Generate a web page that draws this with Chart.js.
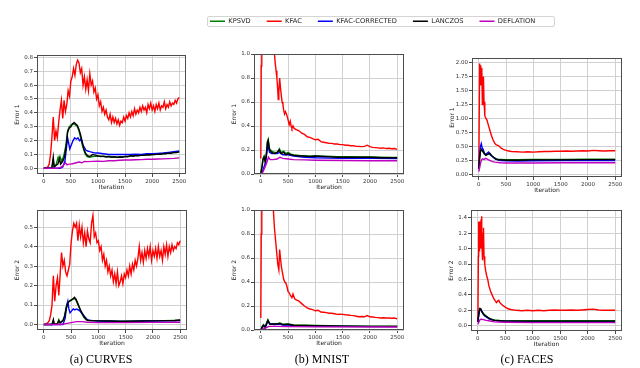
<!DOCTYPE html>
<html><head><meta charset="utf-8">
<script src="https://cdn.jsdelivr.net/npm/chart.js@4.4.1/dist/chart.umd.min.js"></script>
<style>
html,body{margin:0;padding:0;background:#fff;width:640px;height:368px;overflow:hidden;position:relative;font-family:"DejaVu Sans",sans-serif}
canvas.plot{position:absolute;left:0;top:0}
.legend{position:absolute;left:207px;top:16px;width:348px;height:11px;border:1px solid #d4d4d4;border-radius:2px;box-sizing:border-box}
.cap{position:absolute;top:352px;font-family:"Liberation Serif",serif;font-size:12px;color:#000;transform:translateX(-50%);white-space:nowrap;line-height:14px}
</style>
</head><body>
<div class="legend"></div>
<script>
// ---------------- DATA ----------------
const SERIES = ['KPSVD','KFAC','KFAC-CORRECTED','LANCZOS','DEFLATION'];
const X_TICKS = [0,500,1000,1500,2000,2500];
const X_LABELS = ['0','500','1000','1500','2000','2500'];
const CAPTIONS = ['(a) CURVES','(b) MNIST','(c) FACES'];
const Y_TITLES = ['Error 1','Error 2'];

const Y_TICKS_CURVES1 = [0,0.1,0.2,0.3,0.4,0.5,0.6,0.7,0.8];
const Y_LABELS_CURVES1 = ['0.0','0.1','0.2','0.3','0.4','0.5','0.6','0.7','0.8'];
const Y_TICKS_CURVES2 = [0,0.1,0.2,0.3,0.4,0.5];
const Y_LABELS_CURVES2 = ['0.0','0.1','0.2','0.3','0.4','0.5'];
const Y_TICKS_MNIST = [0,0.2,0.4,0.6,0.8,1.0];
const Y_LABELS_MNIST = ['0.0','0.2','0.4','0.6','0.8','1.0'];
const Y_TICKS_FACES1 = [0,0.25,0.5,0.75,1.0,1.25,1.5,1.75,2.0];
const Y_LABELS_FACES1 = ['0.00','0.25','0.50','0.75','1.00','1.25','1.50','1.75','2.00'];
const Y_TICKS_FACES2 = [0,0.2,0.4,0.6,0.8,1.0,1.2,1.4];
const Y_LABELS_FACES2 = ['0.0','0.2','0.4','0.6','0.8','1.0','1.2','1.4'];

// iterations at which the noisy KFAC curve of CURVES is read
const CURVES_KFAC_X = [0,25,50,75,100,125,150,175,200,225,250,275,300,325,350,375,400,425,450,475,500,525,550,575,600,625,650,675,700,725,750,775,800,825,850,875,900,925,950,975,1000,1025,1050,1075,1100,1125,1150,1175,1200,1225,1250,1275,1300,1325,1350,1375,1400,1425,1450,1475,1500,1525,1550,1575,1600,1625,1650,1675,1700,1725,1750,1775,1800,1825,1850,1875,1900,1925,1950,1975,2000,2025,2050,2075,2100,2125,2150,2175,2200,2225,2250,2275,2300,2325,2350,2375,2400,2425,2450,2475,2500];
const curves1_kfac_y = [0,0,0.005,0.01,0.03,0.1,0.22,0.37,0.2,0.27,0.22,0.33,0.42,0.49,0.36,0.49,0.41,0.46,0.56,0.52,0.63,0.66,0.72,0.67,0.75,0.78,0.76,0.69,0.72,0.6,0.66,0.57,0.64,0.56,0.68,0.6,0.63,0.55,0.58,0.5,0.53,0.45,0.48,0.41,0.44,0.39,0.42,0.37,0.35,0.39,0.33,0.37,0.33,0.36,0.32,0.35,0.31,0.34,0.33,0.37,0.34,0.38,0.36,0.4,0.37,0.41,0.38,0.43,0.39,0.42,0.4,0.44,0.41,0.45,0.42,0.44,0.4,0.46,0.43,0.47,0.42,0.45,0.41,0.46,0.43,0.47,0.42,0.45,0.44,0.48,0.43,0.46,0.44,0.48,0.45,0.47,0.46,0.49,0.47,0.5,0.51];
const curves2_kfac_y = [0,0,0.005,0.01,0.02,0.05,0.1,0.25,0.12,0.2,0.24,0.15,0.26,0.37,0.3,0.33,0.27,0.25,0.28,0.31,0.42,0.48,0.52,0.5,0.52,0.43,0.51,0.45,0.5,0.42,0.47,0.4,0.48,0.44,0.42,0.52,0.56,0.45,0.47,0.42,0.43,0.38,0.4,0.33,0.36,0.3,0.33,0.27,0.3,0.25,0.28,0.22,0.26,0.21,0.27,0.2,0.22,0.25,0.21,0.26,0.24,0.28,0.25,0.3,0.26,0.31,0.28,0.33,0.3,0.34,0.4,0.33,0.37,0.32,0.38,0.34,0.39,0.35,0.4,0.33,0.38,0.35,0.39,0.34,0.4,0.35,0.38,0.33,0.4,0.36,0.41,0.35,0.4,0.37,0.41,0.38,0.4,0.39,0.42,0.41,0.43];

// CURVES, Error 1
const curves1_kpsvd = [[0,0],[100,0],[150,0.005],[175,0.06],[195,0.01],[230,0.03],[265,0.08],[285,0.06],[300,0.085],[330,0.05],[370,0.09],[410,0.17],[440,0.27],[470,0.3],[500,0.31],[530,0.32],[560,0.32],[590,0.31],[620,0.3],[650,0.27],[680,0.22],[710,0.17],[740,0.13],[770,0.1],[800,0.085],[850,0.08],[900,0.085],[1000,0.088],[1100,0.085],[1200,0.085],[1300,0.082],[1400,0.083],[1500,0.086],[1600,0.09],[1700,0.093],[1800,0.096],[1900,0.099],[2000,0.1],[2100,0.103],[2200,0.106],[2300,0.11],[2400,0.114],[2500,0.118]];
const curves1_corrected = [[0,0],[300,0],[350,0.01],[390,0.05],[420,0.15],[440,0.22],[460,0.18],[480,0.14],[510,0.17],[540,0.2],[570,0.22],[600,0.21],[630,0.22],[660,0.2],[690,0.21],[720,0.17],[750,0.15],[780,0.13],[810,0.125],[850,0.12],[900,0.115],[950,0.11],[1000,0.11],[1100,0.105],[1200,0.1],[1300,0.1],[1400,0.1],[1500,0.1],[1600,0.1],[1700,0.102],[1800,0.1],[1900,0.105],[2000,0.105],[2100,0.108],[2200,0.11],[2300,0.115],[2400,0.12],[2500,0.125]];
const curves1_lanczos = [[0,0],[100,0],[150,0.005],[175,0.08],[190,0.01],[225,0.02],[260,0.03],[290,0.07],[310,0.03],[350,0.05],[380,0.08],[410,0.15],[440,0.26],[470,0.29],[500,0.3],[530,0.32],[560,0.33],[590,0.32],[620,0.31],[650,0.28],[680,0.24],[710,0.19],[740,0.14],[770,0.11],[800,0.095],[830,0.085],[870,0.09],[900,0.1],[950,0.095],[1000,0.09],[1050,0.085],[1100,0.088],[1150,0.082],[1200,0.085],[1250,0.08],[1300,0.083],[1350,0.079],[1400,0.082],[1450,0.08],[1500,0.085],[1550,0.083],[1600,0.09],[1650,0.087],[1700,0.092],[1750,0.09],[1800,0.095],[1850,0.093],[1900,0.098],[1950,0.096],[2000,0.1],[2050,0.099],[2100,0.102],[2150,0.101],[2200,0.105],[2250,0.104],[2300,0.11],[2350,0.108],[2400,0.115],[2450,0.113],[2500,0.12]];
const curves1_deflation = [[0,0],[250,0],[300,0.005],[350,0.015],[380,0.03],[400,0.04],[430,0.025],[460,0.03],[500,0.03],[550,0.035],[600,0.04],[650,0.045],[700,0.04],[750,0.05],[800,0.048],[900,0.05],[1000,0.052],[1100,0.05],[1200,0.055],[1300,0.055],[1400,0.058],[1500,0.06],[1600,0.06],[1700,0.062],[1800,0.063],[1900,0.065],[2000,0.065],[2100,0.067],[2200,0.068],[2300,0.07],[2400,0.072],[2500,0.075]];

// CURVES, Error 2
const curves2_kpsvd = [[0,0],[150,0],[175,0.02],[190,0.002],[250,0.005],[275,0.025],[300,0.01],[350,0.02],[380,0.045],[410,0.09],[440,0.115],[470,0.12],[500,0.125],[530,0.13],[560,0.135],[590,0.125],[620,0.105],[650,0.085],[680,0.065],[710,0.05],[740,0.035],[770,0.026],[800,0.021],[900,0.02],[1000,0.019],[1200,0.018],[1400,0.017],[1600,0.017],[1800,0.018],[2000,0.019],[2200,0.02],[2400,0.021],[2500,0.022]];
const curves2_corrected = [[0,0],[350,0],[390,0.03],[420,0.1],[440,0.12],[460,0.08],[480,0.06],[510,0.07],[540,0.08],[570,0.075],[600,0.08],[630,0.075],[660,0.07],[690,0.06],[720,0.05],[750,0.04],[780,0.03],[820,0.022],[900,0.02],[1000,0.018],[1500,0.016],[2000,0.018],[2500,0.02]];
const curves2_lanczos = [[0,0],[150,0],[175,0.025],[190,0.002],[250,0.005],[275,0.02],[300,0.008],[350,0.02],[380,0.04],[410,0.08],[440,0.11],[470,0.12],[500,0.125],[530,0.13],[560,0.14],[590,0.13],[620,0.11],[650,0.09],[680,0.07],[710,0.055],[740,0.04],[770,0.03],[800,0.022],[850,0.02],[900,0.02],[1000,0.019],[1200,0.018],[1400,0.016],[1600,0.017],[1800,0.018],[2000,0.019],[2200,0.02],[2400,0.021],[2500,0.023]];
const curves2_deflation = [[0,0],[300,0],[400,0.005],[500,0.01],[600,0.015],[700,0.015],[800,0.012],[1000,0.01],[1500,0.01],[2000,0.011],[2500,0.012]];

// MNIST, Error 1
const mnist1_kpsvd = [[0,0.01],[20,0.06],[40,0.13],[60,0.15],[80,0.11],[100,0.16],[120,0.27],[135,0.29],[160,0.21],[200,0.19],[250,0.18],[300,0.18],[340,0.21],[370,0.18],[420,0.19],[460,0.17],[500,0.18],[550,0.165],[600,0.16],[700,0.155],[800,0.15],[900,0.15],[1000,0.15],[1200,0.148],[1400,0.145],[1600,0.145],[1800,0.142],[2000,0.142],[2200,0.14],[2400,0.138],[2500,0.138]];
const mnist1_kfac = [[0,0.13],[8,0.9],[18,2.5],[60,3],[160,2.5],[230,1.2],[250,1.0],[265,0.92],[280,0.86],[295,0.8],[310,0.7],[320,0.62],[330,0.68],[345,0.8],[360,0.72],[375,0.66],[390,0.6],[405,0.58],[420,0.53],[435,0.5],[450,0.52],[470,0.5],[490,0.47],[505,0.44],[520,0.41],[540,0.44],[555,0.4],[570,0.38],[590,0.4],[610,0.38],[650,0.37],[700,0.36],[750,0.34],[800,0.33],[850,0.31],[900,0.305],[950,0.295],[1000,0.285],[1050,0.29],[1100,0.27],[1150,0.265],[1200,0.26],[1250,0.255],[1300,0.255],[1350,0.25],[1400,0.25],[1450,0.245],[1500,0.245],[1550,0.24],[1600,0.24],[1650,0.235],[1700,0.235],[1750,0.23],[1800,0.23],[1850,0.228],[1900,0.23],[1950,0.24],[2000,0.228],[2050,0.222],[2100,0.22],[2150,0.218],[2200,0.215],[2250,0.218],[2300,0.212],[2350,0.215],[2400,0.21],[2450,0.212],[2500,0.205]];
const mnist1_corrected = [[0,0],[30,0.02],[60,0.06],[90,0.1],[110,0.18],[130,0.24],[160,0.18],[200,0.17],[300,0.17],[350,0.18],[400,0.16],[500,0.16],[600,0.15],[800,0.14],[1000,0.135],[1500,0.13],[2000,0.13],[2500,0.128]];
const mnist1_lanczos = [[0,0.01],[20,0.05],[40,0.12],[60,0.14],[80,0.1],[100,0.15],[120,0.26],[135,0.28],[160,0.2],[200,0.18],[250,0.17],[300,0.18],[340,0.2],[370,0.17],[420,0.18],[460,0.16],[500,0.17],[550,0.16],[600,0.155],[700,0.15],[800,0.15],[900,0.145],[1000,0.15],[1200,0.145],[1400,0.14],[1600,0.14],[1800,0.14],[2000,0.14],[2200,0.135],[2400,0.135],[2500,0.135]];
const mnist1_deflation = [[0,0],[30,0.01],[60,0.04],[90,0.07],[120,0.11],[140,0.14],[170,0.12],[220,0.12],[300,0.125],[350,0.14],[400,0.13],[500,0.125],[600,0.12],[800,0.118],[1000,0.115],[1500,0.112],[2000,0.11],[2500,0.11]];

// MNIST, Error 2
const mnist2_kpsvd = [[0,0],[30,0.035],[50,0.045],[80,0.025],[110,0.065],[130,0.085],[160,0.055],[220,0.05],[300,0.052],[350,0.058],[400,0.048],[500,0.05],[600,0.042],[800,0.04],[1000,0.038],[1500,0.034],[2000,0.032],[2500,0.031]];
const mnist2_kfac = [[0,0.1],[8,0.8],[18,2.5],[60,3],[150,2.5],[210,1.2],[230,1.0],[250,0.85],[270,0.75],[290,0.65],[310,0.55],[330,0.5],[345,0.67],[360,0.6],[380,0.52],[400,0.47],[420,0.42],[440,0.4],[460,0.39],[480,0.36],[500,0.32],[520,0.31],[540,0.29],[570,0.27],[590,0.3],[620,0.26],[650,0.25],[700,0.24],[750,0.22],[800,0.2],[850,0.185],[900,0.175],[950,0.17],[1000,0.16],[1050,0.165],[1100,0.15],[1150,0.148],[1200,0.145],[1250,0.14],[1300,0.14],[1350,0.135],[1400,0.13],[1450,0.132],[1500,0.13],[1550,0.127],[1600,0.125],[1650,0.122],[1700,0.12],[1750,0.115],[1800,0.11],[1850,0.112],[1900,0.11],[1950,0.12],[2000,0.11],[2050,0.108],[2100,0.105],[2150,0.103],[2200,0.1],[2250,0.102],[2300,0.1],[2350,0.1],[2400,0.098],[2450,0.1],[2500,0.093]];
const mnist2_corrected = [[0,0],[30,0.02],[60,0.035],[90,0.03],[120,0.06],[140,0.07],[170,0.05],[250,0.045],[350,0.05],[400,0.042],[500,0.043],[600,0.038],[800,0.035],[1000,0.032],[1500,0.03],[2000,0.028],[2500,0.028]];
const mnist2_lanczos = [[0,0],[30,0.03],[50,0.04],[80,0.02],[110,0.06],[130,0.08],[160,0.05],[220,0.05],[300,0.05],[350,0.055],[400,0.045],[500,0.048],[600,0.04],[800,0.038],[1000,0.035],[1500,0.032],[2000,0.03],[2500,0.03]];
const mnist2_deflation = [[0,0],[50,0.01],[100,0.02],[150,0.03],[300,0.03],[500,0.028],[1000,0.026],[2500,0.025]];

// FACES, Error 1
const faces1_kpsvd = [[0,0.1],[15,0.3],[30,0.41],[50,0.44],[70,0.41],[100,0.37],[130,0.34],[160,0.36],[200,0.37],[240,0.33],[280,0.3],[320,0.28],[360,0.27],[400,0.27],[500,0.265],[700,0.265],[1000,0.27],[1500,0.27],[2000,0.272],[2500,0.272]];
const faces1_kfac = [[0,0.1],[15,1.98],[25,1.6],[35,1.95],[45,1.7],[55,1.9],[65,1.25],[75,1.5],[85,1.75],[95,1.3],[110,1.05],[130,1.0],[150,0.97],[170,0.9],[200,0.8],[230,0.7],[260,0.62],[290,0.56],[320,0.53],[350,0.52],[380,0.5],[410,0.47],[450,0.45],[500,0.43],[550,0.42],[600,0.41],[700,0.405],[800,0.4],[900,0.405],[1000,0.4],[1100,0.405],[1200,0.41],[1300,0.41],[1400,0.415],[1500,0.415],[1600,0.42],[1700,0.415],[1800,0.42],[1900,0.425],[2000,0.42],[2100,0.43],[2200,0.425],[2300,0.42],[2400,0.425],[2500,0.425]];
const faces1_corrected = [[0,0.1],[15,0.35],[30,0.5],[45,0.55],[60,0.48],[80,0.45],[100,0.38],[120,0.35],[150,0.38],[180,0.4],[210,0.35],[250,0.32],[300,0.28],[350,0.26],[400,0.25],[500,0.245],[700,0.24],[1000,0.245],[1500,0.25],[2000,0.25],[2500,0.25]];
const faces1_lanczos = [[0,0.1],[15,0.3],[30,0.42],[50,0.45],[70,0.42],[100,0.38],[130,0.35],[160,0.36],[200,0.38],[240,0.33],[280,0.3],[320,0.27],[360,0.26],[400,0.26],[500,0.255],[700,0.255],[1000,0.26],[1500,0.26],[2000,0.265],[2500,0.265]];
const faces1_deflation = [[0,0.05],[15,0.12],[30,0.2],[50,0.26],[70,0.28],[100,0.27],[130,0.29],[160,0.27],[200,0.25],[250,0.23],[300,0.22],[400,0.21],[500,0.205],[1000,0.205],[1500,0.21],[2000,0.21],[2500,0.21]];

// FACES, Error 2
const faces2_kpsvd = [[0,0.05],[15,0.15],[30,0.21],[50,0.22],[70,0.19],[100,0.16],[130,0.14],[160,0.12],[200,0.1],[250,0.085],[300,0.075],[400,0.068],[500,0.065],[1000,0.065],[2500,0.065]];
const faces2_kfac = [[0,0.05],[10,0.9],[15,1.35],[22,0.97],[30,1.3],[40,1.35],[50,1.0],[58,1.38],[66,1.42],[75,1.1],[85,0.85],[95,1.2],[103,1.27],[112,0.9],[125,0.8],[140,0.72],[160,0.65],[180,0.6],[200,0.52],[230,0.45],[260,0.4],[290,0.35],[320,0.32],[340,0.3],[360,0.32],[380,0.33],[400,0.3],[430,0.28],[460,0.26],[500,0.24],[550,0.22],[600,0.21],[700,0.2],[800,0.195],[900,0.2],[1000,0.195],[1100,0.2],[1200,0.195],[1300,0.2],[1400,0.205],[1500,0.2],[1600,0.2],[1700,0.205],[1800,0.2],[1900,0.205],[2000,0.21],[2100,0.215],[2200,0.205],[2300,0.2],[2400,0.2],[2500,0.2]];
const faces2_corrected = [[0,0.05],[20,0.15],[40,0.22],[60,0.2],[90,0.16],[120,0.13],[160,0.11],[200,0.09],[300,0.07],[400,0.06],[600,0.055],[1000,0.05],[2500,0.05]];
const faces2_lanczos = [[0,0.05],[15,0.15],[30,0.22],[50,0.22],[70,0.19],[100,0.15],[130,0.13],[160,0.12],[200,0.1],[250,0.08],[300,0.07],[400,0.065],[500,0.06],[1000,0.06],[2500,0.06]];
const faces2_deflation = [[0,0.02],[20,0.05],[40,0.08],[60,0.085],[100,0.08],[150,0.07],[200,0.065],[300,0.05],[500,0.045],[1000,0.04],[2500,0.04]];

// ---------------- STYLE / LAYOUT ----------------
const COLORS = ['#008000','#ff0000','#0000ff','#000000','#bf00bf'];
const FRAME = '#4d4d4d';
const GRID = '#d0d0d0';

function zipXY(xs, ys){ return xs.map((x,i)=>({x:x, y:ys[i]})); }
function pairs(p){ return p.map(v=>({x:v[0], y:v[1]})); }

const framePlugin = {
  id:'frame',
  afterDatasetsDraw(chart){
    const a = chart.chartArea, c = chart.ctx;
    c.save(); c.strokeStyle = FRAME; c.lineWidth = 1;
    c.strokeRect(Math.round(a.left)+0.5, Math.round(a.top)+0.5, Math.round(a.right-a.left)-1, Math.round(a.bottom-a.top)-1);
    c.restore();
  }
};

function labelFor(ticks, labels, v){
  for (let i=0;i<ticks.length;i++) if (Math.abs(ticks[i]-v) < 1e-6) return labels[i];
  return '';
}

function newCanvas(){
  const cv = document.createElement('canvas');
  cv.width = 640; cv.height = 368; cv.className = 'plot';
  document.body.appendChild(cv);
  return cv;
}

function makePanel(box, yMin, yMax, yTicks, yLabels, yTitle, seriesData){
  const cv = newCanvas();
  const YW = 23, XH = 17;
  new Chart(cv, {
    type:'line',
    data:{ datasets: seriesData.map((d,i)=>({
      label: SERIES[i], data: d, borderColor: COLORS[i], backgroundColor: COLORS[i],
      borderWidth: 1.4, pointRadius: 0, tension: 0, fill: false, order: 4-i
    }))},
    options:{
      responsive:false, animation:false, devicePixelRatio:1,
      events: [],
      layout:{ padding:{ left: box.l - YW, top: box.t, right: 640 - box.r, bottom: 368 - box.b - XH } },
      plugins:{ legend:{display:false}, tooltip:{enabled:false} },
      scales:{
        x:{
          type:'linear', min:-125, max:2625,
          afterBuildTicks: s => { s.ticks = X_TICKS.map(v=>({value:v})); },
          afterFit: s => { s.height = XH; },
          ticks:{ callback: v => labelFor(X_TICKS, X_LABELS, v), font:{family:'DejaVu Sans', size:5.5}, color:'#333', padding:1, maxRotation:0, autoSkip:false },
          grid:{ color: GRID, tickColor: FRAME, tickLength: 3, lineWidth: 1 },
          border:{ display:false },
          title:{ display:true, text:'Iteration', font:{family:'DejaVu Sans', size:6}, color:'#222', padding:0 }
        },
        y:{
          type:'linear', min:yMin, max:yMax,
          afterBuildTicks: s => { s.ticks = yTicks.map(v=>({value:v})); },
          afterFit: s => { s.width = YW; },
          ticks:{ callback: v => labelFor(yTicks, yLabels, v), font:{family:'DejaVu Sans', size:5.5}, color:'#333', padding:1, autoSkip:false },
          grid:{ color: GRID, tickColor: FRAME, tickLength: 3, lineWidth: 1 },
          border:{ display:false },
          title:{ display:true, text:yTitle, font:{family:'DejaVu Sans', size:6}, color:'#222', padding:0 }
        }
      }
    },
    plugins:[framePlugin]
  });
}

makePanel({l:37,r:186,t:55,b:174}, -0.041, 0.817, Y_TICKS_CURVES1, Y_LABELS_CURVES1, Y_TITLES[0],
  [pairs(curves1_kpsvd), zipXY(CURVES_KFAC_X, curves1_kfac_y), pairs(curves1_corrected), pairs(curves1_lanczos), pairs(curves1_deflation)]);
makePanel({l:37,r:187,t:210,b:330}, -0.028, 0.588, Y_TICKS_CURVES2, Y_LABELS_CURVES2, Y_TITLES[1],
  [pairs(curves2_kpsvd), zipXY(CURVES_KFAC_X, curves2_kfac_y), pairs(curves2_corrected), pairs(curves2_lanczos), pairs(curves2_deflation)]);
makePanel({l:254,r:404,t:54,b:174}, 0, 1.0, Y_TICKS_MNIST, Y_LABELS_MNIST, Y_TITLES[0],
  [pairs(mnist1_kpsvd), pairs(mnist1_kfac), pairs(mnist1_corrected), pairs(mnist1_lanczos), pairs(mnist1_deflation)]);
makePanel({l:254,r:404,t:210,b:330}, 0, 1.0, Y_TICKS_MNIST, Y_LABELS_MNIST, Y_TITLES[1],
  [pairs(mnist2_kpsvd), pairs(mnist2_kfac), pairs(mnist2_corrected), pairs(mnist2_lanczos), pairs(mnist2_deflation)]);
makePanel({l:472,r:622,t:58,b:177}, -0.045, 2.08, Y_TICKS_FACES1, Y_LABELS_FACES1, Y_TITLES[0],
  [pairs(faces1_kpsvd), pairs(faces1_kfac), pairs(faces1_corrected), pairs(faces1_lanczos), pairs(faces1_deflation)]);
makePanel({l:471,r:622,t:210,b:331}, -0.068, 1.5, Y_TICKS_FACES2, Y_LABELS_FACES2, Y_TITLES[1],
  [pairs(faces2_kpsvd), pairs(faces2_kfac), pairs(faces2_corrected), pairs(faces2_lanczos), pairs(faces2_deflation)]);

// shared legend, drawn by Chart.js's legend plugin on its own transparent canvas
new Chart(newCanvas(), {
  type:'line',
  data:{ datasets: SERIES.map((s,i)=>({ label:s, data:[], borderColor:COLORS[i], backgroundColor:COLORS[i], borderWidth:1.5 })) },
  options:{
    responsive:false, animation:false, devicePixelRatio:1, events:[],
    layout:{ padding:{ left:194, top:2, right:0, bottom:0 } },
    scales:{ x:{display:false}, y:{display:false} },
    plugins:{
      tooltip:{enabled:false},
      legend:{ display:true, position:'top', align:'start',
        labels:{ usePointStyle:true, pointStyle:'line', pointStyleWidth:15, padding:16,
                 font:{family:'DejaVu Sans', size:6.7}, color:'#222' } }
    }
  }
});

// captions
const CAP_X = [101, 322, 527];
CAPTIONS.forEach((c,i)=>{
  const d = document.createElement('div'); d.className='cap';
  d.style.left = CAP_X[i]+'px'; d.textContent = c;
  document.body.appendChild(d);
});
</script>
</body></html>
